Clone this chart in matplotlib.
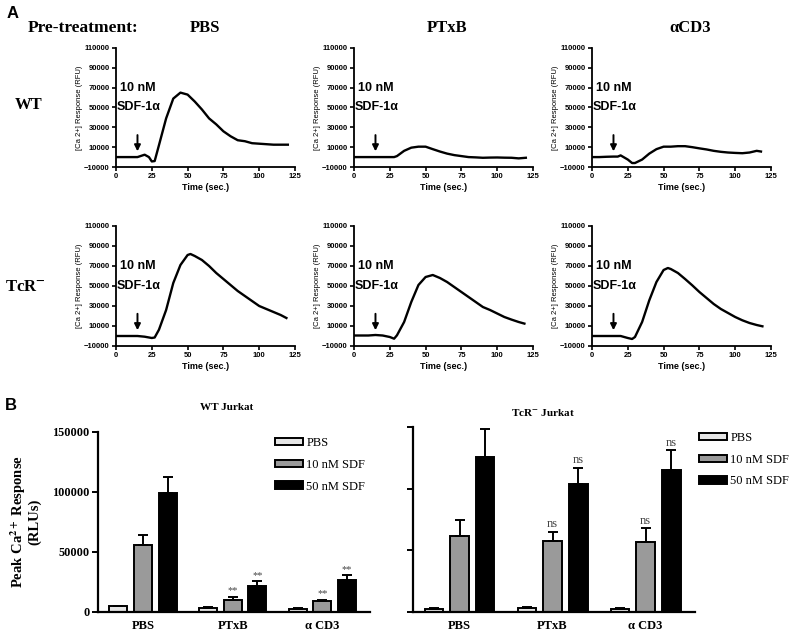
import numpy as np
import matplotlib
matplotlib.use("Agg")
import matplotlib.pyplot as plt
from matplotlib.patches import Patch

plt.rcParams['mathtext.fontset'] = 'stix'

SANS = 'Liberation Sans'
SERIF = 'Liberation Serif'

# ---- panel A: calcium traces (time in s, response in RFU) ----
wt_pbs_t = [0, 5, 10, 15, 20, 23, 25, 27, 30, 35, 40, 45, 50, 55, 60, 65, 70, 75, 80, 85, 90, 95, 100, 105, 110, 115, 120]
wt_pbs_v = [0, 0, 0, 0, 2400, 0, -4400, -4000, 12000, 39000, 59000, 65000, 63000, 56000, 48000, 39000, 33000,
            26000, 21000, 17000, 16000, 14000, 13500, 13000, 12500, 12500, 12500]

wt_ptxb_t = [0, 5, 10, 15, 20, 25, 28, 30, 35, 40, 45, 50, 55, 60, 65, 70, 75, 80, 85, 90, 95, 100, 105, 110, 115, 120]
wt_ptxb_v = [0, 0, 0, 0, 0, 0, 0, 1000, 6300, 9500, 10500, 10500, 8000, 5600, 3500, 2000, 1000, 0, -300, -700,
             -500, -400, -600, -700, -1300, -700]

wt_acd3_t = [0, 5, 10, 15, 18, 20, 25, 28, 30, 35, 40, 45, 50, 55, 60, 65, 70, 75, 80, 85, 90, 95, 100, 105, 110, 115, 118]
wt_acd3_v = [0, 0, 300, 500, 500, 1700, -2500, -6000, -6000, -2500, 3500, 8000, 10500, 10500, 11000, 11000, 10000,
             8800, 7700, 6300, 5300, 4600, 4200, 3900, 4600, 6300, 5600]

tcr_pbs_t = [0, 5, 10, 15, 20, 25, 27, 30, 35, 40, 45, 50, 52, 55, 60, 65, 70, 75, 80, 85, 90, 95, 100, 105, 110, 115, 119]
tcr_pbs_v = [0, 0, 0, 0, -700, -2000, -1500, 6300, 26000, 53000, 71000, 81000, 82000, 80000, 76000, 70000, 63000,
             57000, 51000, 45000, 40000, 35000, 30000, 27000, 24000, 21000, 18000]

tcr_ptxb_t = [0, 5, 10, 15, 20, 25, 28, 30, 35, 40, 45, 50, 55, 60, 65, 70, 75, 80, 85, 90, 95, 100, 105, 110, 115, 119]
tcr_ptxb_v = [500, 500, 500, 1000, 500, -1000, -2700, 700, 14000, 34000, 51000, 59000, 61000, 58000, 54000, 49000,
              44000, 39000, 34000, 29000, 26000, 22500, 19000, 16400, 14000, 12400]

tcr_acd3_t = [0, 5, 10, 15, 20, 25, 28, 30, 35, 40, 45, 50, 53, 55, 60, 65, 70, 75, 80, 85, 90, 95, 100, 105, 110, 115, 119]
tcr_acd3_v = [0, 0, 0, 0, 0, -2000, -3000, -1000, 14000, 35700, 54000, 66000, 68000, 67000, 63000, 57000, 50700,
              44000, 38000, 32000, 27000, 23000, 19000, 15700, 13000, 11000, 9700]

col_titles = ['PBS', 'PTxB', 'αCD3']
x_ticks_a = [0, 25, 50, 75, 100, 125]
y_ticks_a = [-10000, 10000, 30000, 50000, 70000, 90000, 110000]

# ---- panel B: peak responses (RLUs) ----
groups = ['PBS', 'PTxB', 'α CD3']
series = ['PBS', '10 nM SDF', '50 nM SDF']
wt_pbs_bar = [4700, 3600, 2800]
wt_pbs_err = [700, 400, 300]
wt_10_bar = [55500, 9700, 8900]
wt_10_err = [8400, 2800, 1400]
wt_50_bar = [99000, 22000, 26400]
wt_50_err = [13500, 3500, 4100]
wt_marks_10 = ['', '**', '**']
wt_marks_50 = ['', '**', '**']

tcr_pbs_bar = [2700, 3500, 2700]
tcr_pbs_err = [400, 400, 400]
tcr_10_bar = [61600, 57600, 56800]
tcr_10_err = [13300, 7300, 11200]
tcr_50_bar = [125700, 104000, 115400]
tcr_50_err = [22900, 13000, 15600]
tcr_marks_10 = ['', 'ns', 'ns']
tcr_marks_50 = ['', 'ns', 'ns']

y_ticks_b = [0, 50000, 100000, 150000]
bar_colors = ['#e6e6e6', '#9a9a9a', '#000000']

W, H = 800, 636
fig = plt.figure(figsize=(8, 6.36), dpi=100)


def box(l, t, r, b):
    return [l / W, 1 - b / H, (r - l) / W, (b - t) / H]


def trace_axes(rect, t, v):
    ax = fig.add_axes(rect)
    ax.plot(t, v, color='black', lw=1.7)
    ax.set_xlim(0, 125)
    ax.set_ylim(-10000, 110000)
    ax.set_xticks(x_ticks_a)
    ax.set_yticks(y_ticks_a)
    for s in ['top', 'right']:
        ax.spines[s].set_visible(False)
    for s in ['left', 'bottom']:
        ax.spines[s].set_linewidth(1.3)
    ax.tick_params(direction='out', length=3, width=1.2, pad=1.5)
    for lab in ax.get_xticklabels() + ax.get_yticklabels():
        lab.set_fontfamily(SANS)
        lab.set_fontweight('bold')
        lab.set_fontsize(5.5)
    ax.set_xlabel('Time (sec.)', fontfamily=SANS, fontweight='bold', fontsize=6.5, labelpad=2)
    ax.set_ylabel('[Ca 2+] Response (RFU)', fontfamily=SANS, fontsize=5.5, labelpad=1)
    ax.annotate('', xy=(15, 3000), xytext=(15, 25000),
                arrowprops=dict(arrowstyle='-|>', color='black', lw=1.4, mutation_scale=9))
    ax.text(15.5, 70000, '10 nM', ha='center', va='center', fontfamily=SANS, fontweight='bold', fontsize=9)
    ax.text(15.5, 50000, 'SDF-1α', ha='center', va='center', fontfamily=SANS, fontweight='bold', fontsize=9)
    return ax


lefts = [116, 354, 592]
row_tb = [(48, 167), (226, 346)]
traces = [[(wt_pbs_t, wt_pbs_v), (wt_ptxb_t, wt_ptxb_v), (wt_acd3_t, wt_acd3_v)],
          [(tcr_pbs_t, tcr_pbs_v), (tcr_ptxb_t, tcr_ptxb_v), (tcr_acd3_t, tcr_acd3_v)]]
for r in range(2):
    for c in range(3):
        t, v = traces[r][c]
        trace_axes(box(lefts[c], row_tb[r][0], lefts[c] + 179, row_tb[r][1]), t, v)

# headers for panel A
fig.text(7 / W, 1 - 14 / H, 'A', fontfamily=SANS, fontweight='bold', fontsize=12, va='center')
fig.text(83 / W, 1 - 28 / H, 'Pre-treatment:', fontfamily=SERIF, fontweight='bold', fontsize=12.5,
         ha='center', va='center')
for x, title in zip([205, 447, 690], col_titles):
    fig.text(x / W, 1 - 28 / H, title, fontfamily=SERIF, fontweight='bold', fontsize=12, ha='center', va='center')
fig.text(29 / W, 1 - 105 / H, 'WT', fontfamily=SERIF, fontweight='bold', fontsize=12, ha='center', va='center')
fig.text(25 / W, 1 - 287 / H, r'TcR$^{\mathbf{-}}$', fontfamily=SERIF, fontweight='bold', fontsize=12,
         ha='center', va='center')


# ---- panel B ----
def bar_axes(rect, vals, errs, marks, ylabels):
    ax = fig.add_axes(rect)
    x = np.arange(len(groups))
    off = 0.275
    w = 0.2
    for i in range(3):
        ax.bar(x + (i - 1) * off, vals[i], w, color=bar_colors[i], edgecolor='black', linewidth=1.4,
               yerr=[np.zeros(3), errs[i]], error_kw=dict(ecolor='black', elinewidth=1.4, capsize=3.5,
                                                          capthick=1.4), label=series[i], zorder=2)
    for i in (1, 2):
        for j in range(3):
            m = marks[i - 1][j]
            if m:
                fs = 7.5 if m == '**' else 9
                ax.text(x[j] + (i - 1) * off, vals[i][j] + errs[i][j] + 1200, m,
                        ha='center', va='bottom', fontfamily=SERIF, fontsize=fs, color='#444444')
    ax.set_xlim(-0.5, 2.53)
    ax.set_ylim(0, 150000)
    ax.set_yticks(y_ticks_b)
    ax.set_xticks(x)
    ax.set_xticklabels(groups, fontfamily=SERIF, fontweight='bold', fontsize=9)
    for s in ['top', 'right']:
        ax.spines[s].set_visible(False)
    for s in ['left', 'bottom']:
        ax.spines[s].set_linewidth(1.6)
    ax.tick_params(axis='x', length=0, pad=6)
    ax.tick_params(axis='y', direction='out', length=4, width=1.4, pad=2)
    if ylabels:
        ax.set_yticklabels([str(v) for v in y_ticks_b], fontfamily=SERIF, fontweight='bold', fontsize=8.8)
        ax.set_ylabel('Peak Ca$^{\\mathbf{2+}}$ Response\n(RLUs)', fontfamily=SERIF, fontweight='bold',
                      fontsize=10.5, labelpad=8, linespacing=0.95)
    else:
        ax.set_yticklabels([])
    return ax


ax_wt = bar_axes(box(98, 432, 370, 612), [wt_pbs_bar, wt_10_bar, wt_50_bar],
                 [wt_pbs_err, wt_10_err, wt_50_err], [wt_marks_10, wt_marks_50], True)
ax_tcr = bar_axes(box(413, 427, 695, 612), [tcr_pbs_bar, tcr_10_bar, tcr_50_bar],
                  [tcr_pbs_err, tcr_10_err, tcr_50_err], [tcr_marks_10, tcr_marks_50], False)

handles = [Patch(facecolor=bar_colors[i], edgecolor='black', linewidth=1.4) for i in range(3)]
for ax, (lx, ly) in [(ax_wt, (275, 437)), (ax_tcr, (699, 432))]:
    ax.legend(handles, series, loc='upper left', bbox_to_anchor=(lx / W, 1 - ly / H),
              bbox_transform=fig.transFigure, frameon=False, handlelength=2.2, handleheight=0.55,
              labelspacing=0.78, handletextpad=0.3, borderaxespad=0, borderpad=0,
              prop={'family': SERIF, 'size': 9})

fig.text(5 / W, 1 - 405 / H, 'B', fontfamily=SANS, fontweight='bold', fontsize=12, va='center')
fig.text(227 / W, 1 - 407 / H, 'WT Jurkat', fontfamily=SERIF, fontweight='bold', fontsize=8,
         ha='center', va='center')
fig.text(543 / W, 1 - 413 / H, r'TcR$^{\mathbf{-}}$ Jurkat', fontfamily=SERIF, fontweight='bold', fontsize=8,
         ha='center', va='center')

fig.savefig('out.png', dpi=100)
